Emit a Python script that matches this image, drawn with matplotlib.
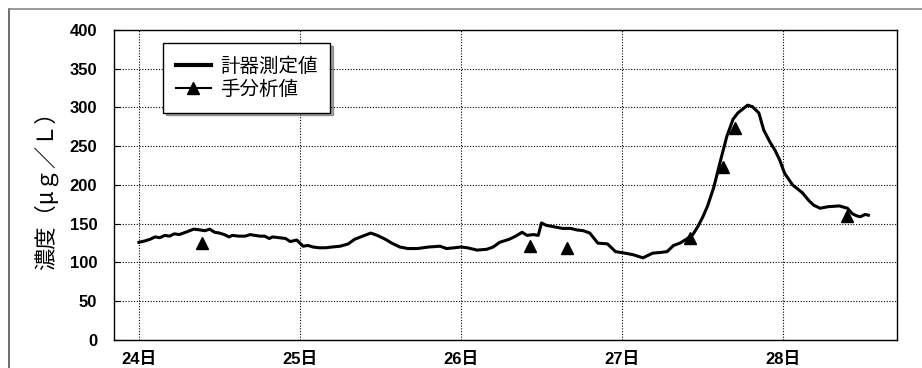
import matplotlib
matplotlib.use('Agg')
import matplotlib.pyplot as plt
from matplotlib.lines import Line2D

# 計器測定値 (day, μg/L)
meter_day = [24.00, 24.04, 24.07, 24.10, 24.13, 24.16, 24.19, 24.22, 24.25, 24.29,
             24.34, 24.38, 24.41, 24.44, 24.47, 24.50, 24.53, 24.56, 24.58, 24.62,
             24.66, 24.69, 24.72, 24.75, 24.78, 24.81, 24.83, 24.87, 24.91, 24.94,
             24.98, 25.00, 25.02, 25.05, 25.08, 25.12, 25.16, 25.20, 25.25, 25.30,
             25.34, 25.39, 25.44, 25.48, 25.53, 25.57, 25.62, 25.67, 25.73, 25.80,
             25.87, 25.91, 25.96, 26.00, 26.04, 26.10, 26.16, 26.20, 26.24, 26.30,
             26.34, 26.38, 26.41, 26.45, 26.48, 26.50, 26.53, 26.58, 26.63, 26.68,
             26.72, 26.76, 26.80, 26.85, 26.91, 26.96, 27.02, 27.07, 27.13, 27.19,
             27.24, 27.28, 27.32, 27.36, 27.40, 27.44, 27.47, 27.50, 27.53, 27.57,
             27.61, 27.65, 27.69, 27.72, 27.75, 27.78, 27.81, 27.85, 27.88, 27.92,
             27.95, 27.98, 28.01, 28.06, 28.12, 28.16, 28.19, 28.23, 28.28, 28.35,
             28.40, 28.43, 28.46, 28.48, 28.51, 28.53]
meter_val = [126, 128, 130, 133, 132, 135, 134, 137, 136, 139,
             143, 142, 141, 143, 139, 138, 136, 133, 135, 134,
             134, 136, 135, 134, 134, 131, 133, 132, 131, 127,
             129, 125, 121, 122, 120, 119, 119, 120, 121, 124,
             130, 134, 138, 135, 130, 125, 120, 118, 118, 120,
             121, 118, 119, 120, 119, 116, 117, 120, 126, 130,
             134, 139, 135, 136, 135, 151, 148, 146, 144, 144,
             142, 141, 138, 125, 124, 114, 112, 110, 106, 112,
             113, 114, 122, 125, 130, 136, 146, 158, 172, 197,
             230, 262, 285, 293, 298, 303, 301, 293, 271, 255,
             245, 232, 215, 200, 190, 180, 174, 170, 172, 173,
             170, 163, 160, 159, 162, 161]

# 手分析値
manual_day = [24.39, 26.43, 26.66, 27.42, 27.63, 27.70, 28.40]
manual_val = [125, 121, 119, 132, 223, 273, 160]

xtick_days = [24, 25, 26, 27, 28]
xtick_labels = ['24日', '25日', '26日', '27日', '28日']
yticks = [0, 50, 100, 150, 200, 250, 300, 350, 400]

plt.rcParams['font.family'] = ['Liberation Sans', 'Noto Sans CJK JP', 'DejaVu Sans']

fig = plt.figure(figsize=(9.22, 3.68), dpi=100)
ax = fig.add_axes([0.1236, 0.0761, 0.8493, 0.8424])

ax.plot(meter_day, meter_val, color='black', linewidth=2.2)
ax.plot(manual_day, manual_val, linestyle='none', marker='^', markersize=9,
        color='black')

ax.set_xlim(23.845, 28.708)
ax.set_ylim(0, 400)
ax.set_xticks(xtick_days)
ax.set_xticklabels(xtick_labels)
ax.set_yticks(yticks)
ax.tick_params(axis='x', length=0, pad=9, labelsize=12)
ax.tick_params(axis='y', direction='in', length=4, pad=12, labelsize=12)
for lab in ax.get_xticklabels() + ax.get_yticklabels():
    lab.set_fontweight('bold')

ax.grid(True, color='black', linestyle=(0, (1, 1.5)), linewidth=0.8)
for sp in ax.spines.values():
    sp.set_linewidth(1.0)

ax.set_ylabel('濃度（μｇ／Ｌ）', fontsize=16, family=['Noto Sans CJK JP'], labelpad=8)

# 凡例
handles = [Line2D([], [], color='black', linewidth=3),
           Line2D([], [], color='black', linewidth=1.5, marker='^', markersize=9)]
leg = ax.legend(handles, ['計器測定値', '手分析値'], loc='upper left',
                bbox_to_anchor=(0.0626, 0.957), fontsize=14,
                frameon=True, fancybox=False, shadow=True, edgecolor='black',
                framealpha=1, handlelength=1.8, handletextpad=0.5,
                borderpad=0.65, labelspacing=0.1, borderaxespad=0)
leg.get_frame().set_linewidth(1.0)
for t in leg.get_texts():
    t.set_family(['Noto Sans CJK JP'])

# 外枠
fig.add_artist(Line2D([9 / 922, 9 / 922], [0, 1 - 9 / 368], color='#555555', linewidth=1.2))
fig.add_artist(Line2D([9 / 922, 1], [1 - 9 / 368, 1 - 9 / 368], color='#888888', linewidth=1.2))

fig.savefig('out.png', dpi=100)
